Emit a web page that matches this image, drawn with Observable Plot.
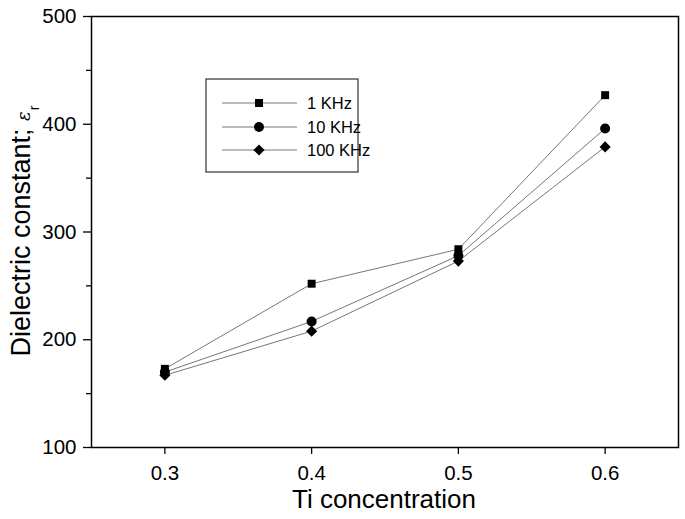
<!DOCTYPE html>
<html>
<head>
<meta charset="utf-8">
<script src="https://cdn.jsdelivr.net/npm/d3@7"></script>
<script src="https://cdn.jsdelivr.net/npm/@observablehq/plot@0.6"></script>
<style>
  html, body { margin: 0; padding: 0; background: #fff; }
  svg { font-family: "Liberation Sans", Arial, sans-serif; }
</style>
</head>
<body>
<div id="chart"></div>
<script>
const tiConcentration = [0.3, 0.4, 0.5, 0.6];
const seriesNames = ["1 KHz", "10 KHz", "100 KHz"];
const eps1kHz = [173, 252, 284, 427];
const eps10kHz = [170, 217, 278, 396];
const eps100kHz = [167, 208, 273, 379];
const yTicks = [100, 200, 300, 400, 500];
const yMinorTicks = [150, 250, 350, 450];
const xTicks = [0.3, 0.4, 0.5, 0.6];

const seriesValues = [eps1kHz, eps10kHz, eps100kHz];
const symbols = ["square", "circle", "diamond2"];
const radii = [4.5, 5, 5];
const rows = seriesValues.flatMap((vals, s) =>
  vals.map((v, i) => ({series: seriesNames[s], x: tiConcentration[i], y: v})));

const font = "'Liberation Sans', Arial, sans-serif";

const plot = Plot.plot({
  width: 685,
  height: 519,
  marginLeft: 91,
  marginTop: 16,
  marginRight: 7,
  marginBottom: 72,
  style: {fontFamily: font, background: "#fff", color: "#000"},
  x: {domain: [0.25, 0.65]},
  y: {domain: [100, 500]},
  marks: [
    Plot.axisY(yMinorTicks, {tickSize: 5, text: null, strokeWidth: 1.3, label: null}),
    Plot.axisY(yTicks, {tickSize: 8, tickPadding: 7, fontSize: 20.5, strokeWidth: 1.3, label: null}),
    Plot.axisX(xTicks, {tickSize: 7, tickPadding: 11, fontSize: 20.5, strokeWidth: 1.3, tickFormat: d3.format(".1f"), label: null}),
    Plot.frame({stroke: "#000", strokeWidth: 1.5}),
    Plot.line(rows, {x: "x", y: "y", z: "series", stroke: "#666", strokeWidth: 0.9}),
    ...seriesNames.map((name, s) =>
      Plot.dot(rows.filter(d => d.series === name), {
        x: "x", y: "y", symbol: symbols[s], r: radii[s], fill: "#000", stroke: "none"
      }))
  ]
});

document.getElementById("chart").appendChild(plot);

const svg = d3.select(plot);

// X axis title
svg.append("text")
  .attr("x", 384).attr("y", 508)
  .attr("text-anchor", "middle")
  .attr("font-size", 26).attr("font-family", font)
  .text("Ti concentration");

// Y axis title with epsilon subscript r
const yt = svg.append("text")
  .attr("transform", "translate(30,231) rotate(-90)")
  .attr("text-anchor", "middle")
  .attr("font-size", 27).attr("font-family", font);
yt.append("tspan").text("Dielectric constant; ");
yt.append("tspan").attr("font-style", "italic").attr("font-family", "'DejaVu Serif', serif").attr("font-size", 18).text("ε");
yt.append("tspan").attr("font-size", 14).attr("dy", 9).attr("dx", 1).text("r");

// Legend
const lg = svg.append("g").attr("text-anchor", "start");
lg.append("rect").attr("x", 206).attr("y", 79).attr("width", 152).attr("height", 93)
  .attr("fill", "#fff").attr("stroke", "#333").attr("stroke-width", 1.2);
const rowY = [103, 127, 150];
seriesNames.forEach((name, s) => {
  const y = rowY[s];
  lg.append("line").attr("x1", 222).attr("x2", 297).attr("y1", y).attr("y2", y)
    .attr("stroke", "#666").attr("stroke-width", 0.9);
  const sym = {square: d3.symbolSquare, circle: d3.symbolCircle, diamond2: d3.symbolDiamond2}[symbols[s]];
  lg.append("path").attr("transform", `translate(259,${y})`)
    .attr("d", d3.symbol(sym, Math.PI * radii[s] * radii[s])())
    .attr("fill", "#000");
  lg.append("text").attr("x", 307).attr("y", y).attr("dy", "0.36em")
    .attr("text-anchor", "start")
    .attr("font-size", 16.5).attr("font-family", font).text(name);
});
</script>
</body>
</html>
